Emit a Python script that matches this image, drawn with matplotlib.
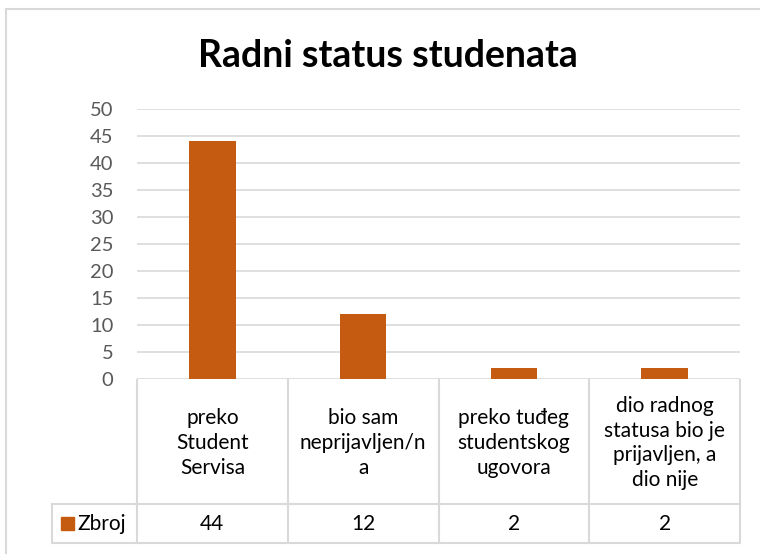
import matplotlib.pyplot as plt
from matplotlib.patches import Rectangle
from matplotlib.lines import Line2D

plt.rcParams['font.family'] = ['Lato', 'DejaVu Sans']

# data
categories = ['preko\nStudent\nServisa',
              'bio sam\nneprijavljen/n\na',
              'preko tuđeg\nstudentskog\nugovora',
              'dio radnog\nstatusa bio je\nprijavljen, a\ndio nije']
values = [44, 12, 2, 2]
series_name = 'Zbroj'
title = 'Radni status studenata'
bar_color = '#C55A11'
grid_color = '#D9D9D9'

W, H = 760, 554
fig = plt.figure(figsize=(W / 100, H / 100), dpi=100)

def fx(px):
    return px / W

def fy(py):
    return 1 - py / H

# outer chart border (left and top only visible)
fig.add_artist(Line2D([fx(6), fx(6)], [fy(9), fy(560)], color=grid_color, lw=1.5))
fig.add_artist(Line2D([fx(6), fx(770)], [fy(9), fy(9)], color=grid_color, lw=1.5))

# plot area
x0, x1 = 137, 740
y0, y1 = 379, 109
ax = fig.add_axes([fx(x0), fy(y0), fx(x1) - fx(x0), fy(y1) - fy(y0)])
xs = range(len(values))
ax.bar(xs, values, width=0.31, color=bar_color, zorder=3)
ax.set_xlim(-0.5, len(values) - 0.5)
ax.set_ylim(0, 50)
ax.set_yticks(range(0, 51, 5))
ax.yaxis.grid(True, color=grid_color, lw=1.2)
ax.set_xticks([])
for s in ax.spines.values():
    s.set_visible(False)
ax.tick_params(axis='y', length=0, pad=17, labelsize=14.5, labelcolor='#595959')

fig.text(fx(388), fy(56), title, ha='center', va='center',
         fontsize=27, fontweight='bold', color='black')

# data table below the plot
col_w = (x1 - x0) / len(values)
row_top, row_mid, row_bot = 380, 504, 543
tbl = dict(color=grid_color, lw=1.5)
fig.add_artist(Line2D([fx(x0), fx(x1)], [fy(row_mid), fy(row_mid)], **tbl))
fig.add_artist(Line2D([fx(52), fx(x1)], [fy(row_bot), fy(row_bot)], **tbl))
fig.add_artist(Line2D([fx(52), fx(x0)], [fy(row_mid), fy(row_mid)], **tbl))
fig.add_artist(Line2D([fx(52), fx(52)], [fy(row_mid), fy(row_bot)], **tbl))
for i in range(len(values) + 1):
    xx = x0 + i * col_w
    fig.add_artist(Line2D([fx(xx), fx(xx)], [fy(row_top), fy(row_bot)], **tbl))

for i, (cat, v) in enumerate(zip(categories, values)):
    cx = x0 + (i + 0.5) * col_w
    fig.text(fx(cx), fy((row_top + row_mid) / 2 + 1), cat, ha='center', va='center',
             fontsize=15, color='black', linespacing=1.3)
    fig.text(fx(cx), fy((row_mid + row_bot) / 2), str(v), ha='center', va='center',
             fontsize=15, color='black')

fig.add_artist(Rectangle((fx(61), fy(530)), fx(13), fy(517) - fy(530),
                         color=bar_color, transform=fig.transFigure))
fig.text(fx(77), fy(523.5), series_name, ha='left', va='center',
         fontsize=15, color='black')

fig.savefig('out.png', dpi=100)
